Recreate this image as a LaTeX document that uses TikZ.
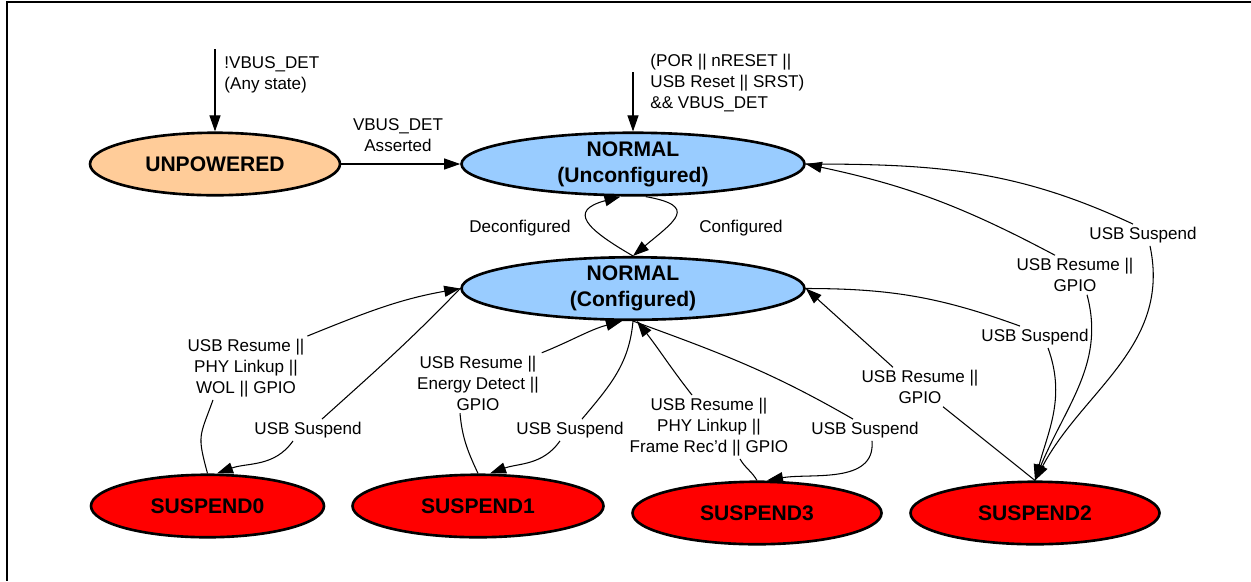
\documentclass[tikz,border=0pt]{standalone}
\usepackage{fontspec}
\setmainfont{Liberation Sans}
\usetikzlibrary{shapes.geometric, arrows.meta}
\definecolor{peach}{RGB}{255,204,153}
\definecolor{skyblue}{RGB}{153,204,255}
\tikzset{
    state/.style = {draw, ellipse, line width=1.5pt, inner xsep=0pt, inner ysep=-3pt,
        minimum height=1.25cm, align=center, font=\fontsize{12}{14.8}\selectfont\bfseries},
    normal state/.style = {state, fill=skyblue, minimum width=6.86cm},
    suspend state/.style = {state, fill=red, minimum width=4.98cm},
    trans/.style = {align=center, inner sep=1.5pt, font=\fontsize{9.7}{11.95}\selectfont},
    arr/.style = {draw, line width=0.6pt, -{Triangle[length=3.2mm, width=2.2mm]}},
}

\begin{document}
\begin{tikzpicture}
                \useasboundingbox (0,0) rectangle (25.02,-11.62);
                \draw[line width=1.2pt] (25.02,-0.04) -- (0.14,-0.04) -- (0.14,-11.62);

                \node[state, fill=peach, minimum width=5cm] (unp) at (4.30,-3.28) {UNPOWERED};
                \node[normal state] (unc) at (12.66,-3.28) {NORMAL\\(Unconfigured)};
                \node[normal state] (cfg) at (12.66,-5.77) {NORMAL\\(Configured)};
                \node[suspend state, minimum width=4.66cm] (s0) at (4.15,-10.12) {SUSPEND0};
                \node[suspend state, minimum width=5.02cm] (s1) at (9.56,-10.12) {SUSPEND1};
                \node[suspend state] (s3) at (15.14,-10.26) {SUSPEND3};
                \node[suspend state] (s2) at (20.70,-10.26) {SUSPEND2};

                \coordinate (vbusin) at (4.30,-0.98);
                \coordinate (resetin) at (12.66,-1.44);

                \node[trans, align=left, anchor=west] (l_any) at (4.43,-1.50) {!VBUS\_DET\\(Any state)};
                \node[trans, align=left, anchor=west] (l_reset) at (12.95,-1.66) {(POR || nRESET ||\\USB Reset || SRST)\\\&\& VBUS\_DET};
                \node[trans] (l_vbusdet) at (7.96,-2.71) {VBUS\_DET\\Asserted};
                \node[trans] (l_deconf) at (10.40,-4.56) {Deconfigured};
                \node[trans] (l_conf) at (14.82,-4.56) {Configured};
                \node[trans] (l_r0) at (4.92,-7.36) {USB Resume ||\\PHY Linkup ||\\WOL || GPIO};
                \node[trans] (l_s0) at (6.16,-8.60) {USB Suspend};
                \node[trans] (l_r1) at (9.56,-7.66) {USB Resume ||\\Energy Detect ||\\GPIO};
                \node[trans] (l_s1) at (11.40,-8.60) {USB Suspend};
                \node[trans] (l_r3) at (14.18,-8.54) {USB Resume ||\\PHY Linkup ||\\Frame Rec'd || GPIO};
                \node[trans] (l_s3) at (17.30,-8.60) {USB Suspend};
                \node[trans] (l_r2) at (18.40,-7.74) {USB Resume ||\\GPIO};
                \node[trans] (l_s2a) at (20.70,-6.74) {USB Suspend};
                \node[trans] (l_r2u) at (21.50,-5.50) {USB Resume ||\\GPIO};
                \node[trans] (l_s2u) at (22.86,-4.70) {USB Suspend};

                \draw[arr] (vbusin) -- (unp);
                \draw[arr] (resetin) -- (unc);
                \draw[arr] (unp) -- (unc);
                \draw[arr] (cfg.north) to[out=150, in=195, looseness=2.3] ([xshift=-0.25cm]unc.south);
                \draw[arr] ([xshift=0.25cm]unc.south) to[out=-10, in=40, looseness=2.3] (cfg.north);

                \draw[arr] (s0.north) to[out=105, in=-110, looseness=1.4] ([xshift=-0.66cm]l_r0.south)
                    (l_r0.north east) to[out=22, in=190] (cfg.west);
                \draw[arr] (cfg.west) to[out=226, in=42] ([xshift=0.28cm]l_s0.north)
                    ([xshift=-0.30cm]l_s0.south) to[out=235, in=20] ([xshift=0.19cm]s0.north);
                \draw[arr] (s1.north) to[out=115, in=-85] ([xshift=-0.36cm]l_r1.south)
                    (l_r1.north east) to[out=22, in=195] ([xshift=-0.22cm]cfg.south);
                \draw[arr] (cfg.south) to[out=-95, in=50] ([xshift=0.24cm]l_s1.north)
                    ([xshift=-0.20cm]l_s1.south) to[out=235, in=20] ([xshift=0.24cm]s1.north);
                \draw[arr] (s3.north) to[out=120, in=-60] ([xshift=0.62cm]l_r3.south)
                    ([xshift=-0.34cm]l_r3.north) to[out=128, in=-52] ([xshift=0.08cm]cfg.south);
                \draw[arr] (cfg.south) to[out=-20, in=150] ([xshift=-0.24cm]l_s3.north)
                    ([xshift=0.14cm]l_s3.south) to[out=-85, in=10] ([xshift=0.2cm]s3.north);
                \draw[arr] (s2.north) -- ([xshift=0.46cm]l_r2.south)
                    ([xshift=-0.54cm]l_r2.north) -- (cfg.east);
                \draw[arr] (cfg.east) to[out=0, in=160] ([xshift=-0.30cm]l_s2a.north)
                    ([xshift=0.26cm]l_s2a.south) to[out=-70, in=75] (s2.north);
                \draw[arr] (s2.north) to[out=70, in=-75] ([xshift=0.24cm]l_r2u.south)
                    ([xshift=-0.40cm]l_r2u.north) to[out=152, in=-12] (unc.east);
                \draw[arr] (unc.east) to[out=0, in=155] ([xshift=-0.20cm]l_s2u.north)
                    ([xshift=0.14cm]l_s2u.south) to[out=-78, in=62] (s2.north);
            \end{tikzpicture}
\end{document}
